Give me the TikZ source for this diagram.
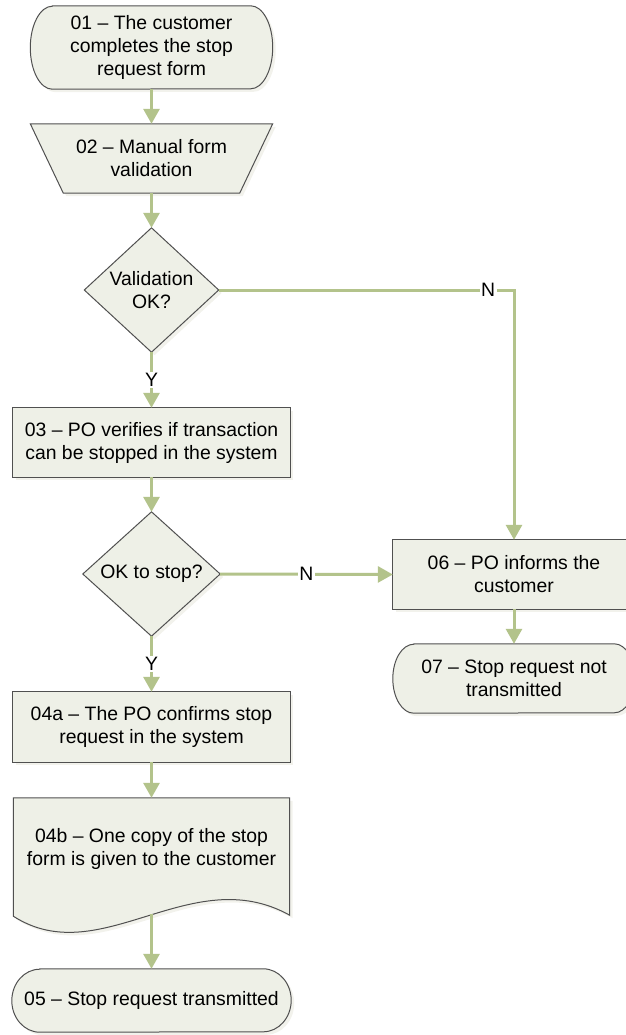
\documentclass[tikz,border=0pt]{standalone}
\usepackage{fontspec}
\setmainfont{Liberation Sans}
\usetikzlibrary{arrows.meta,calc,backgrounds}

\definecolor{boxfill}{HTML}{EEF0E7}
\definecolor{boxline}{HTML}{505050}
\definecolor{flow}{HTML}{B3C38B}
\definecolor{shadowtint}{HTML}{F2F2EC}

\tikzset{
  x=1pt, y=1pt,
  txt/.style={font=\fontsize{19.4}{23}\selectfont, align=center, inner sep=0pt},
  area/.style n args={2}{txt, rectangle, minimum width=#1, minimum height=#2},
  outline/.style={fill=boxfill, draw=boxline, line width=1pt, line join=miter},
  flowline/.style={draw=flow, line width=3pt, -{Triangle[width=16pt,length=15pt]}},
  lbl/.style={txt, fill=white, inner xsep=1.5pt, inner ysep=1pt}
}

% outline with a faint offset shadow behind it
\newcommand\ShapeWithShadow[1]{%
  \fill[shadowtint, transform canvas={shift={(3pt,-3pt)}}] #1;
  \path[outline] #1;}

\begin{document}
\begin{tikzpicture}
\useasboundingbox (0,0) rectangle (625,-1035);

% ---- text / anchor nodes (main column at x = 151.5) ----
\node[area={242}{83}] (n01) at (151.5,-47.5)
  {01 – The customer\\completes the stop\\request form};
\node[area={242}{69}] (n02) at (151.5,-158.5)
  {02 – Manual form\\validation};
\node[area={134}{124}] (d1) at (151.5,-290)
  {Validation\\OK?};
\node[area={277}{69}] (n03) at (151.5,-442.5)
  {03 – PO verifies if transaction\\can be stopped in the system};
\node[area={137}{124}] (d2) at (151.5,-574)
  {OK to stop?};
\node[area={277}{70}] (n04a) at (151.5,-727)
  {04a – The PO confirms stop\\request in the system};
\node[area={276}{117}] (n04b) at (151.5,-856.5) {};
\node[txt] (t04b) at ($(n04b.center)+(0,8)$)
  {04b – One copy of the stop\\form is given to the customer};
\node[area={279}{63}] (n05) at (151.5,-1000.5)
  {05 – Stop request transmitted};
\node[area={242}{69}] (n06) at (514,-574.5)
  {06 – PO informs the\\customer};
\node[area={242}{69}] (n07) at (514,-678.5)
  {07 – Stop request not\\transmitted};

% ---- shapes, behind the texts ----
\begin{pgfonlayer}{background}
  % terminators
  \ShapeWithShadow{($(n01.north west)+(22,0)$) -- ($(n01.north east)+(-22,0)$)
    arc[start angle=90, end angle=-90, x radius=22, y radius=41.5]
    -- ($(n01.south west)+(22,0)$)
    arc[start angle=270, end angle=90, x radius=22, y radius=41.5] -- cycle}
  \ShapeWithShadow{($(n05.north west)+(28,0)$) -- ($(n05.north east)+(-28,0)$)
    arc[start angle=90, end angle=-90, x radius=28, y radius=31.5]
    -- ($(n05.south west)+(28,0)$)
    arc[start angle=270, end angle=90, x radius=28, y radius=31.5] -- cycle}
  \ShapeWithShadow{($(n07.north west)+(21,0)$) -- ($(n07.north east)+(-21,0)$)
    arc[start angle=90, end angle=-90, x radius=21, y radius=34.5]
    -- ($(n07.south west)+(21,0)$)
    arc[start angle=270, end angle=90, x radius=21, y radius=34.5] -- cycle}
  % manual operation
  \ShapeWithShadow{(n02.north west) -- (n02.north east)
    -- ($(n02.south east)+(-33,0)$) -- ($(n02.south west)+(33,0)$) -- cycle}
  % decisions
  \ShapeWithShadow{(d1.north) -- (d1.east) -- (d1.south) -- (d1.west) -- cycle}
  \ShapeWithShadow{(d2.north) -- (d2.east) -- (d2.south) -- (d2.west) -- cycle}
  % processes
  \ShapeWithShadow{(n03.north west) rectangle (n03.south east)}
  \ShapeWithShadow{(n04a.north west) rectangle (n04a.south east)}
  \ShapeWithShadow{(n06.north west) rectangle (n06.south east)}
  % document
  \ShapeWithShadow{(n04b.north west) -- (n04b.north east) -- (n04b.south east)
    .. controls ($(n04b.south east)+(-99,55)$) and ($(n04b.south east)+(-189,-57)$)
    .. ($(n04b.south west)+(0,-1)$) -- cycle}
\end{pgfonlayer}

% ---- connectors ----
\draw[flowline] (n01.south) -- (n02.north);
\draw[flowline] (n02.south) -- (d1.north);
\draw[flowline] (d1.south) -- node[lbl] {Y} (n03.north);
\draw[flowline] (n03.south) -- (d2.north);
\draw[flowline] (d2.south) -- node[lbl] {Y} (n04a.north);
\draw[flowline] (d2.east) -- node[lbl] {N} (n06.west);
\draw[flowline] (d1.east) -| node[lbl, pos=0.456] {N} (n06.north);
\draw[flowline] (n06.south) -- (n07.north);
\draw[flowline] (n04a.south) -- (n04b.north);
\coordinate (w04b) at ($(n04b.south)+(0,1)$);
\draw[flowline] (w04b) -- (n05.north);
\end{tikzpicture}
\end{document}
